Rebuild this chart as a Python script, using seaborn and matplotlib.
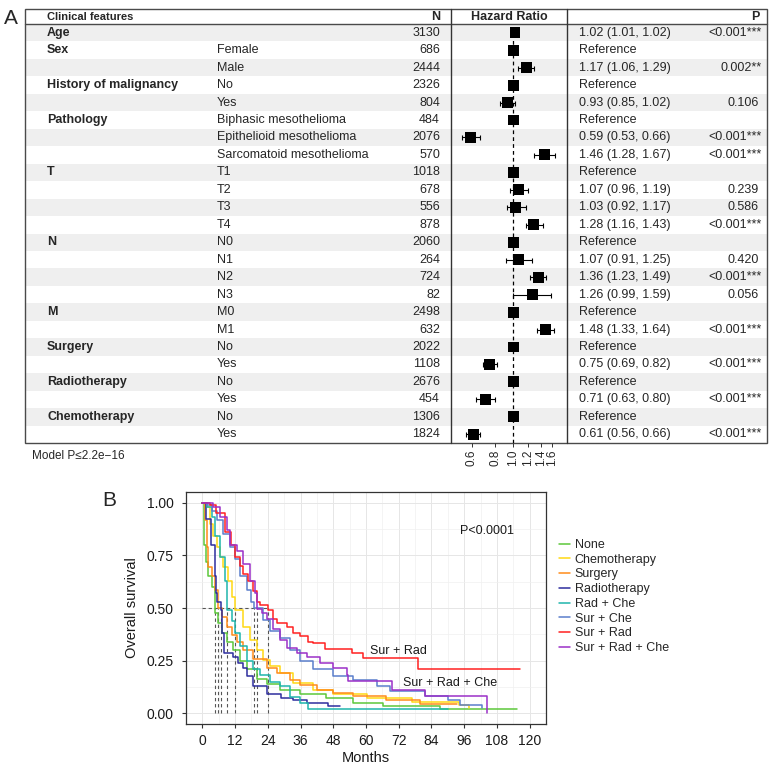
import numpy as np
import pandas as pd
import matplotlib
matplotlib.use("Agg")
import matplotlib.pyplot as plt
from matplotlib.patches import Rectangle
from matplotlib.ticker import NullLocator, FixedLocator
import seaborn as sns

# ---------------- Forest plot data ----------------
variables = ["Age", "Sex", "", "History of malignancy", "", "Pathology", "", "",
             "T", "", "", "", "N", "", "", "", "M", "", "Surgery", "",
             "Radiotherapy", "", "Chemotherapy", ""]
levels = ["", "Female", "Male", "No", "Yes", "Biphasic mesothelioma",
          "Epithelioid mesothelioma", "Sarcomatoid mesothelioma",
          "T1", "T2", "T3", "T4", "N0", "N1", "N2", "N3", "M0", "M1",
          "No", "Yes", "No", "Yes", "No", "Yes"]
n_counts = [3130, 686, 2444, 2326, 804, 484, 2076, 570, 1018, 678, 556, 878,
            2060, 264, 724, 82, 2498, 632, 2022, 1108, 2676, 454, 1306, 1824]
hr = [1.02, 1, 1.17, 1, 0.93, 1, 0.59, 1.46, 1, 1.07, 1.03, 1.28,
      1, 1.07, 1.36, 1.26, 1, 1.48, 1, 0.75, 1, 0.71, 1, 0.61]
hr_low = [1.01, 1, 1.06, 1, 0.85, 1, 0.53, 1.28, 1, 0.96, 0.92, 1.16,
          1, 0.91, 1.23, 0.99, 1, 1.33, 1, 0.69, 1, 0.63, 1, 0.56]
hr_high = [1.02, 1, 1.29, 1, 1.02, 1, 0.66, 1.67, 1, 1.19, 1.17, 1.43,
           1, 1.25, 1.49, 1.59, 1, 1.64, 1, 0.82, 1, 0.80, 1, 0.66]
is_reference = [False, True, False, True, False, True, False, False, True, False, False, False,
                True, False, False, False, True, False, True, False, True, False, True, False]
p_values = ["<0.001***", "", "0.002**", "", "0.106", "", "<0.001***", "<0.001***",
            "", "0.239", "0.586", "<0.001***", "", "0.420", "<0.001***", "0.056",
            "", "<0.001***", "", "<0.001***", "", "<0.001***", "", "<0.001***"]
hr_ticks = [0.6, 0.8, 1.0, 1.2, 1.4, 1.6]
hr_tick_labels = ["0.6", "0.8", "1.0", "1.2", "1.4", "1.6"]
model_p_text = "Model P\u22642.2e\u221216"

# ---------------- Kaplan-Meier data ----------------
km_groups = ["None", "Chemotherapy", "Surgery", "Radiotherapy", "Rad + Che",
             "Sur + Che", "Sur + Rad", "Sur + Rad + Che"]
km_colors = ["#5CC83B", "#FFD814", "#FF8C1A", "#2E2E9E", "#1FB5AC",
             "#5B7FCC", "#FF2020", "#9B30C8"]

none_t = [0, 0.6, 1.3, 2.2, 3.4, 4.8, 5.9, 7.1, 8.9, 11.4, 13.8, 16.2, 19.9, 23.6,
          28.4, 35.8, 45.5, 55.3, 66.3, 87.0, 115.4]
none_s = [1, 0.80, 0.72, 0.65, 0.60, 0.475, 0.43, 0.38, 0.34, 0.30, 0.25, 0.21, 0.165,
          0.14, 0.113, 0.09, 0.074, 0.05, 0.035, 0.019, 0.019]

chemo_t = [0, 1.0, 2.8, 4.0, 5.3, 6.5, 7.7, 9.5, 11.0, 12.0, 15.0, 17.5, 19.9, 22.3,
           24.8, 28.4, 33.3, 40.7, 48.0, 60.2, 76.7, 94.0, 97.7]
chemo_s = [1, 0.98, 0.90, 0.84, 0.79, 0.74, 0.695, 0.63, 0.55, 0.49, 0.41, 0.35, 0.30,
           0.255, 0.223, 0.19, 0.145, 0.113, 0.09, 0.074, 0.053, 0.04, 0.028]

surg_t = [0, 1.0, 1.6, 2.2, 3.4, 4.6, 5.9, 7.1, 8.9, 10.7, 12.6, 15.0, 18.7, 23.6,
          27.2, 32.1, 35.8, 41.9, 48.0, 55.3, 67.5, 79.7, 93.2]
surg_s = [1, 0.915, 0.79, 0.695, 0.65, 0.585, 0.50, 0.455, 0.41, 0.37, 0.34, 0.30, 0.26,
          0.215, 0.19, 0.16, 0.137, 0.113, 0.097, 0.082, 0.063, 0.047, 0.047]

radio_t = [0, 1.5, 3.0, 4.5, 5.0, 5.5, 6.8, 7.3, 8.0, 11.4, 13.2, 15.0, 16.2, 18.7,
           23.6, 29.0, 33.3, 38.2, 46.0, 50.4]
radio_s = [1, 0.92, 0.80, 0.65, 0.57, 0.53, 0.49, 0.38, 0.286, 0.27, 0.24, 0.215, 0.176,
           0.13, 0.09, 0.074, 0.066, 0.05, 0.035, 0.035]

radche_t = [0, 1.6, 3.4, 4.6, 6.5, 8.3, 9.0, 10.7, 12.0, 13.8, 16.2, 18.7, 21.0, 24.8,
            28.4, 32.1, 35.8, 38.8, 90.0]
radche_s = [1, 0.98, 0.93, 0.84, 0.74, 0.63, 0.49, 0.44, 0.38, 0.32, 0.25, 0.21, 0.18,
            0.15, 0.13, 0.08, 0.05, 0.022, 0.022]

surche_t = [0, 1.6, 3.4, 5.3, 7.7, 10.1, 12.0, 13.8, 16.2, 18.0, 19.0, 22.3, 24.8, 28.4,
            32.1, 35.8, 40.7, 48.0, 55.3, 63.9, 68.8, 81.6, 90.0, 94.4, 102.7]
surche_s = [1, 0.99, 0.96, 0.915, 0.85, 0.79, 0.73, 0.65, 0.585, 0.53, 0.50, 0.445, 0.39,
            0.357, 0.30, 0.25, 0.21, 0.176, 0.16, 0.13, 0.105, 0.085, 0.066, 0.042, 0.024]

surrad_t = [0, 2.8, 5.0, 8.3, 10.5, 12.0, 13.8, 15.0, 16.8, 18.7, 19.9, 21.0, 24.0, 25.9,
            27.2, 30.9, 33.3, 35.8, 38.8, 40.6, 45.0, 54.7, 59.0, 78.9, 116.6]
surrad_s = [1, 0.986, 0.95, 0.86, 0.80, 0.74, 0.70, 0.66, 0.63, 0.58, 0.53, 0.515, 0.49,
            0.45, 0.43, 0.41, 0.38, 0.365, 0.34, 0.333, 0.307, 0.286, 0.264, 0.212, 0.212]

surradche_t = [0, 4.0, 6.5, 8.9, 10.1, 12.6, 15.0, 17.5, 19.3, 20.0, 21.7, 23.6, 26.0,
               28.4, 30.9, 34.6, 38.2, 43.1, 48.0, 52.9, 53.5, 69.4, 81.8, 104.5]
surradche_s = [1, 0.98, 0.93, 0.87, 0.80, 0.77, 0.71, 0.63, 0.57, 0.495, 0.475, 0.45, 0.40,
               0.35, 0.31, 0.286, 0.27, 0.24, 0.215, 0.184, 0.156, 0.113, 0.085, 0.0]

km_pvalue_text = "P<0.0001"

# ---------------- Style ----------------
sns.set_theme(style="white")
plt.rcParams['font.family'] = ['Liberation Sans', 'DejaVu Sans']

W, H = 772, 774
fig = plt.figure(figsize=(W / 100, H / 100), dpi=100)

def fx(x):
    return x / W

def fy(y):
    return 1 - y / H

# ---------------- Panel A: table / forest ----------------
axT = fig.add_axes([0, 0, 1, 1])
axT.set_xlim(0, W)
axT.set_ylim(H, 0)
axT.axis("off")

left, right, top, head_bot, bot = 25, 767, 9, 24, 443
nrows = len(levels)
rh = (bot - head_bot) / nrows
band_col = "#EFEFEF"
for i in range(nrows):
    if i % 2 == 0:
        axT.add_patch(Rectangle((left, head_bot + i * rh), right - left, rh,
                                facecolor=band_col, edgecolor="none", zorder=0))
axT.add_patch(Rectangle((left, top), right - left, bot - top, facecolor="none",
                        edgecolor="#4a4a4a", lw=1.0, zorder=2))
axT.plot([left, right], [head_bot, head_bot], color="#4a4a4a", lw=1.0, zorder=2)
for xv in (451, 567):
    axT.plot([xv, xv], [top, bot], color="#333333", lw=1.0, zorder=2)

hy = (top + head_bot) / 2 + 0.5
axT.text(47, hy, "Clinical features", fontsize=8, fontweight="bold", va="center", ha="left")
axT.text(440, hy, "N", fontsize=9, fontweight="bold", va="center", ha="right")
axT.text(509, hy, "Hazard Ratio", fontsize=9, fontweight="bold", va="center", ha="center")
axT.text(760, hy, "P", fontsize=9, fontweight="bold", va="center", ha="right")

for i in range(nrows):
    yc = head_bot + (i + 0.5) * rh
    if variables[i]:
        axT.text(47, yc, variables[i], fontsize=9, fontweight="bold", va="center", ha="left")
    if levels[i]:
        axT.text(217, yc, levels[i], fontsize=9, va="center", ha="left")
    axT.text(440, yc, str(n_counts[i]), fontsize=9, va="center", ha="right")
    if is_reference[i]:
        ci_txt = "Reference"
    else:
        ci_txt = f"{hr[i]:.2f} ({hr_low[i]:.2f}, {hr_high[i]:.2f})"
    axT.text(579, yc, ci_txt, fontsize=9, va="center", ha="left")
    if p_values[i]:
        xr = 762 if "*" in p_values[i] else 759
        axT.text(xr, yc, p_values[i], fontsize=9, va="center", ha="right")

axT.text(32, 456, model_p_text, fontsize=8.5, va="center", ha="left")
axT.text(11, 18, "A", fontsize=15, va="center", ha="center")
axT.text(109, 500, "B", fontsize=15, va="center", ha="center")

# HR column axes (log scale)
axH = fig.add_axes([fx(451), fy(bot), fx(567) - fx(451), (bot - head_bot) / H])
axH.patch.set_alpha(0)
forest_df = pd.DataFrame({"row": np.arange(nrows), "hr": hr, "lo": hr_low, "hi": hr_high,
                          "ref": is_reference})
axH.set_xscale("log")
axH.axvline(1.0, color="black", lw=0.9, ls=(0, (3, 2.5)), zorder=1)
nonref = forest_df[~forest_df["ref"]]
axH.errorbar(nonref["hr"], nonref["row"],
             xerr=[nonref["hr"] - nonref["lo"], nonref["hi"] - nonref["hr"]],
             fmt="none", ecolor="black", elinewidth=0.8, capsize=1.8, capthick=0.8, zorder=2)
sns.scatterplot(data=forest_df, x="hr", y="row", marker="s", s=62, color="black",
                edgecolor="none", linewidth=0, ax=axH, legend=False, zorder=3)
axH.set_xlim(0.465, 1.93)
axH.set_ylim(nrows - 0.5, -0.5)
axH.xaxis.set_major_locator(FixedLocator(hr_ticks))
axH.xaxis.set_minor_locator(NullLocator())
axH.set_xticklabels(hr_tick_labels, rotation=90, fontsize=8.5)
axH.set_yticks([])
axH.set_xlabel("")
axH.set_ylabel("")
for sp in axH.spines.values():
    sp.set_visible(False)
axH.tick_params(axis="x", which="major", length=3, width=0.7, pad=2, color="#333333",
                bottom=True)

# ---------------- Panel B: Kaplan-Meier ----------------
axK = fig.add_axes([fx(186), fy(724), (546 - 186) / W, (724 - 492) / H])
curves = [(none_t, none_s), (chemo_t, chemo_s), (surg_t, surg_s), (radio_t, radio_s),
          (radche_t, radche_s), (surche_t, surche_s), (surrad_t, surrad_s),
          (surradche_t, surradche_s)]
rows = []
medians = []
for g, (t, s) in zip(km_groups, curves):
    for ti, si in zip(t, s):
        rows.append((g, ti, si))
    med = next(ti for ti, si in zip(t, s) if si <= 0.5)
    medians.append(med)
km_df = pd.DataFrame(rows, columns=["group", "time", "surv"])

axK.set_axisbelow(True)
axK.set_xticks(np.arange(0, 121, 12))
axK.set_xticks(np.arange(6, 121, 12), minor=True)
axK.set_yticks([0, 0.25, 0.5, 0.75, 1.0])
axK.set_yticks([0.125, 0.375, 0.625, 0.875], minor=True)
axK.grid(which="major", color="#E6E6E6", lw=0.7)
axK.grid(which="minor", color="#F0F0F0", lw=0.5)

sns.lineplot(data=km_df, x="time", y="surv", hue="group", hue_order=km_groups,
             palette=km_colors, drawstyle="steps-post", estimator=None, sort=True,
             lw=1.1, ax=axK, legend=True)

axK.hlines(0.5, 0, max(medians), colors="#555555", linestyles=(0, (3, 2.5)), lw=0.8, zorder=1)
axK.vlines(medians, 0, 0.5, colors="#555555", linestyles=(0, (3, 2.5)), lw=0.8, zorder=1)

axK.set_xlim(-6, 126)
axK.set_ylim(-0.05, 1.05)
axK.set_yticklabels(["0.00", "0.25", "0.50", "0.75", "1.00"])
axK.set_xlabel("Months", fontsize=10.5, labelpad=2, color="#1a1a1a")
axK.set_ylabel("Overall survival", fontsize=10.5, labelpad=5, color="#1a1a1a")
axK.tick_params(axis="both", which="major", labelsize=10, length=3, width=0.8,
                color="#333333", labelcolor="#1a1a1a", bottom=True, left=True)
axK.tick_params(axis="x", pad=4)
axK.tick_params(axis="y", pad=6)
axK.tick_params(which="minor", length=0)
for sp in axK.spines.values():
    sp.set_visible(True)
    sp.set_color("#333333")
    sp.set_linewidth(0.9)

axK.text(104.5, 0.863, km_pvalue_text, fontsize=9, ha="center", va="center", color="#1a1a1a")
axK.text(72, 0.297, "Sur + Rad", fontsize=9, ha="center", va="center", color="#1a1a1a")
axK.text(90.7, 0.146, "Sur + Rad + Che", fontsize=9, ha="center", va="center", color="#1a1a1a")

handles, labels = axK.get_legend_handles_labels()
axK.legend(handles, labels, loc="upper left", bbox_to_anchor=(fx(559), fy(539)),
           bbox_transform=fig.transFigure, frameon=False, fontsize=9,
           handlelength=0.9, handletextpad=0.35, labelspacing=0.22,
           borderaxespad=0, borderpad=0)

fig.savefig("out.png", dpi=100)
